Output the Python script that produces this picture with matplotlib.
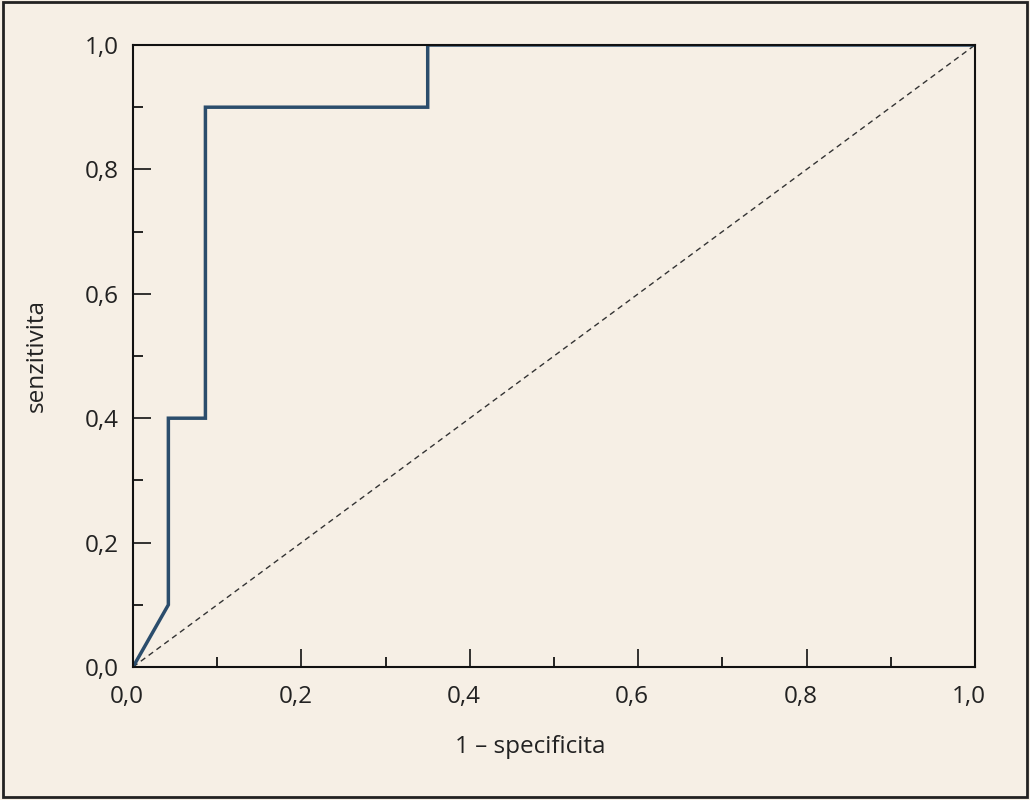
import matplotlib.pyplot as plt
from matplotlib.patches import Rectangle
from matplotlib.ticker import MultipleLocator, FuncFormatter
from matplotlib.transforms import ScaledTranslation

# ROC krivka
fpr = [0.0, 0.042, 0.042, 0.086, 0.086, 0.35, 0.35, 1.0]
tpr = [0.0, 0.10, 0.40, 0.40, 0.90, 0.90, 1.0, 1.0]
ref_x = [0.0, 1.0]
ref_y = [0.0, 1.0]

bg = '#f6efe5'
plt.rcParams['font.family'] = ['Open Sans', 'DejaVu Sans']

fig = plt.figure(figsize=(10.3, 8), dpi=100, facecolor=bg)
ax = fig.add_axes([133 / 1030, 1 - 667 / 800, 842 / 1030, 622 / 800], facecolor=bg)

ax.plot(ref_x, ref_y, linestyle=(0, (4, 3)), color='#333333', linewidth=1)
ax.plot(fpr, tpr, color='#2b4d6c', linewidth=2.5, solid_joinstyle='miter')

ax.set_xlim(0, 1)
ax.set_ylim(0, 1)
for s in ['top', 'right', 'left', 'bottom']:
    ax.spines[s].set_linewidth(1.5)
    ax.spines[s].set_color('#111111')

fmt = FuncFormatter(lambda v, p: f'{v:.1f}'.replace('.', ','))
ax.xaxis.set_major_locator(MultipleLocator(0.2))
ax.yaxis.set_major_locator(MultipleLocator(0.2))
ax.xaxis.set_minor_locator(MultipleLocator(0.1))
ax.yaxis.set_minor_locator(MultipleLocator(0.1))
ax.xaxis.set_major_formatter(fmt)
ax.yaxis.set_major_formatter(fmt)
ax.tick_params(which='major', direction='in', length=13, width=1.2, labelsize=17.5,
               colors='#111111', labelcolor='#222222')
ax.tick_params(which='minor', direction='in', length=7, width=1.2)
ax.tick_params(axis='x', pad=13)
ax.tick_params(axis='y', pad=10)

# popisky osy x jsou v originale lehce posunute doleva
posun = ScaledTranslation(-6 / 100, 0, fig.dpi_scale_trans)
for lab in ax.get_xticklabels():
    lab.set_transform(lab.get_transform() + posun)

ax.set_xlabel('1 – specificita', fontsize=17.5, labelpad=19, color='#222222',
              x=(530 - 133) / 842)
ax.set_ylabel('senzitivita', fontsize=17.5, labelpad=26, color='#222222')

fig.patches.append(Rectangle((0.003, 0.004), 0.994, 0.993, transform=fig.transFigure,
                             fill=False, edgecolor='#222222', linewidth=2))

fig.savefig('out.png', dpi=100, facecolor=bg)
